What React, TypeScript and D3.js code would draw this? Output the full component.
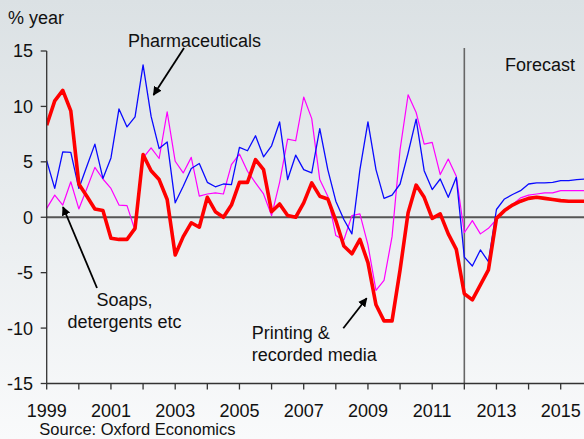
import React from "react";
import * as d3 from "d3";

const START_YEAR = 1999;
const yearTicks = [1999, 2000, 2001, 2002, 2003, 2004, 2005, 2006, 2007, 2008, 2009, 2010, 2011, 2012, 2013, 2014, 2015];
const yearLabels = [1999, 2001, 2003, 2005, 2007, 2009, 2011, 2013, 2015];
const valueTicks = [15, 10, 5, 0, -5, -10, -15];
const forecastStart = 2012;

// Quarterly % year growth, 1999Q1 .. 2015Q4
const printing = [
  8.3, 10.5, 11.45, 9.6, 3.0, 1.9, 0.75, 0.6, -1.9, -2.0, -2.0, -1.0, 5.65, 4.2, 3.4, 1.6,
  -3.4, -1.75, -0.5, -0.9, 1.8, 0.5, 0.0, 1.1, 3.15, 3.15, 5.2, 4.3, 0.5, 1.2, 0.15, 0.0,
  1.3, 3.1, 1.9, 1.65, -0.3, -2.6, -3.3, -2.0, -4.1, -7.9, -9.35, -9.35, -4.75, 0.4, 2.9, 1.8,
  -0.1, 0.3, -1.5, -2.9, -6.9, -7.45, -6.1, -4.75, -0.1, 0.6, 1.1, 1.45, 1.7, 1.8, 1.7, 1.6,
  1.5, 1.45, 1.45, 1.45,
];
const pharma = [
  5.1, 2.6, 5.9, 5.85, 2.6, 4.6, 6.6, 3.5, 5.35, 9.77, 8.15, 9.05, 13.75, 9.1, 6.2, 6.8,
  1.3, 2.8, 4.4, 4.85, 3.15, 2.75, 3.0, 2.95, 6.3, 6.0, 7.35, 5.45, 6.45, 8.6, 3.4, 5.6,
  4.3, 4.0, 8.0, 4.3, 1.45, -0.2, -1.5, 4.3, 8.6, 4.3, 1.7, 2.0, 3.0, 5.8, 8.85, 4.2,
  2.5, 3.45, 1.8, 3.6, -3.6, -4.4, -2.95, -4.0, 0.7, 1.65, 2.05, 2.4, 3.0, 3.1, 3.1, 3.15,
  3.3, 3.3, 3.4, 3.45,
];
const soaps = [
  0.8, 2.0, 1.1, 3.2, 0.75, 2.6, 4.5, 3.45, 2.6, 1.1, 1.05, -1.2, 5.35, 6.25, 5.3, 9.5,
  5.05, 4.0, 5.4, 1.9, 2.1, 2.2, 2.1, 4.75, 5.7, 4.15, 3.1, 2.1, 0.15, 3.15, 7.05, 6.9,
  10.85, 8.9, 3.4, 1.9, -1.65, -2.05, 0.15, 0.3, -2.5, -6.6, -5.7, -1.75, 6.1, 11.05, 9.45, 6.6,
  6.75, 3.85, 5.25, 3.7, -1.4, -0.3, -1.5, -1.0, -0.2, 0.55, 1.15, 1.75, 2.0, 2.1, 2.2, 2.2,
  2.4, 2.4, 2.4, 2.4,
];

const W = 584;
const H = 439;
const FONT = "'Liberation Sans', Arial, Helvetica, sans-serif";

export default function App() {
  const x = d3.scaleLinear().domain([1999, 2015]).range([46.7, 560.7]);
  const y = d3.scaleLinear().domain([-15, 15]).range([383.5, 51]);
  const line = d3
    .line<number>()
    .x((_, i) => x(START_YEAR + i * 0.25))
    .y((d) => y(d));

  const x0 = x(1999);
  const yTop = y(15);
  const yBot = y(-15);

  return (
    <svg
      width={W}
      height={H}
      style={{ position: "absolute", left: 0, top: 0, fontFamily: FONT }}
    >
      <defs>
        <linearGradient id="bg" x1="0" y1="0" x2="0" y2="1">
          <stop offset="0" stopColor="#dbe1e4" />
          <stop offset="1" stopColor="#f9fafb" />
        </linearGradient>
        <clipPath id="plot">
          <rect x={x0} y={0} width={W - x0} height={H} />
        </clipPath>
        <marker id="ah" viewBox="0 0 10 10" refX="9" refY="5" markerWidth="5" markerHeight="5" orient="auto">
          <path d="M0,0 L10,5 L0,10 z" fill="#000" />
        </marker>
      </defs>
      <rect x={0} y={0} width={W} height={H} fill="url(#bg)" />

      {/* zero line */}
      <line x1={x0} x2={W} y1={y(0)} y2={y(0)} stroke="#555" strokeWidth={2} />
      {/* forecast divider */}
      <line x1={x(forecastStart)} x2={x(forecastStart)} y1={48} y2={yBot} stroke="#666" strokeWidth={1.6} />

      <g clipPath="url(#plot)" fill="none" strokeLinejoin="round">
        <path d={line(soaps) || ""} stroke="#ff00ff" strokeWidth={1.2} />
        <path d={line(pharma) || ""} stroke="#0a0aff" strokeWidth={1.3} />
        <path d={line(printing) || ""} stroke="#ff0000" strokeWidth={3.6} />
      </g>

      {/* axes */}
      <line x1={x0} x2={x0} y1={yTop} y2={yBot} stroke="#333" strokeWidth={1.3} />
      <line x1={x0} x2={W} y1={yBot} y2={yBot} stroke="#333" strokeWidth={1.3} />
      {valueTicks.map((v) => (
        <g key={"v" + v}>
          <line x1={x0 - 6} x2={x0} y1={y(v)} y2={y(v)} stroke="#333" strokeWidth={1.3} />
          <text x={33} y={y(v)} dy="0.36em" textAnchor="end" fontSize={18} fill="#111">
            {v}
          </text>
        </g>
      ))}
      {yearTicks.map((yr) => (
        <line key={"t" + yr} x1={x(yr)} x2={x(yr)} y1={yBot} y2={yBot + 6} stroke="#333" strokeWidth={1.3} />
      ))}
      {yearLabels.map((yr) => (
        <text key={"l" + yr} x={x(yr)} y={416.7} textAnchor="middle" fontSize={18} fill="#111">
          {yr}
        </text>
      ))}

      <text x={8} y={24} fontSize={18} fill="#111">% year</text>
      <text x={128} y={47} fontSize={18} fill="#111">Pharmaceuticals</text>
      <text x={505} y={71} fontSize={18} fill="#111">Forecast</text>
      <text x={124.5} y={306} textAnchor="middle" fontSize={18} fill="#111">Soaps,</text>
      <text x={124.5} y={328} textAnchor="middle" fontSize={18} fill="#111">detergents etc</text>
      <text x={251.7} y={339.3} fontSize={18} fill="#111">Printing &amp;</text>
      <text x={251.7} y={360.7} fontSize={18} fill="#111">recorded media</text>
      <text x={39.3} y={435} fontSize={16.5} fill="#111">Source: Oxford Economics</text>

      {/* annotation arrows */}
      <line x1={184} y1={48} x2={153.5} y2={95} stroke="#000" strokeWidth={1.8} markerEnd="url(#ah)" />
      <line x1={97} y1={288} x2={63} y2={207} stroke="#000" strokeWidth={1.8} markerEnd="url(#ah)" />
      <line x1={343.3} y1={328.3} x2={366.7} y2={298.3} stroke="#000" strokeWidth={1.8} markerEnd="url(#ah)" />
    </svg>
  );
}
